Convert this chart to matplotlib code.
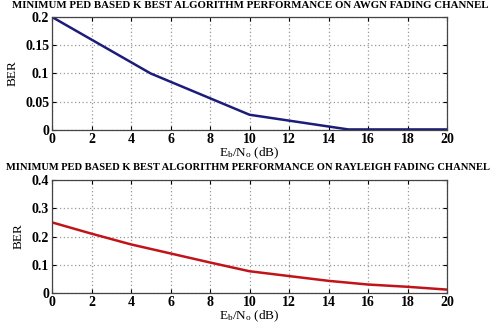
import matplotlib
matplotlib.use('Agg')
import matplotlib.pyplot as plt

plt.rcParams['font.family'] = 'Liberation Serif'
plt.rcParams['font.weight'] = 'bold'
plt.rcParams['mathtext.fontset'] = 'custom'
plt.rcParams['mathtext.rm'] = 'Liberation Serif:bold'
plt.rcParams['mathtext.it'] = 'Liberation Serif:bold'
plt.rcParams['mathtext.bf'] = 'Liberation Serif:bold'

# AWGN channel
snr_awgn = [0, 5, 10, 15, 20]
ber_awgn = [0.2, 0.1, 0.027, 0.001, 0.001]

# Rayleigh channel
snr_ray = [0, 2, 4, 6, 8, 10, 12, 14, 16, 18, 20]
ber_ray = [0.25, 0.21, 0.172, 0.14, 0.108, 0.077, 0.06, 0.043, 0.03, 0.022, 0.012]

titles = ['MINIMUM PED BASED K BEST ALGORITHM PERFORMANCE ON AWGN FADING CHANNEL',
          'MINIMUM PED BASED K BEST ALGORITHM PERFORMANCE ON RAYLEIGH FADING CHANNEL']
xlabel = r'E$_\mathregular{b}$/N$_\mathregular{o}$ (dB)'

W, H = 493, 326
fig = plt.figure(figsize=(W/100, H/100), dpi=100)

def px(x0, y0, x1, y1):
    return [x0/W, 1 - y1/H, (x1-x0)/W, (y1-y0)/H]

ax1 = fig.add_axes(px(52, 17, 447, 130))
ax2 = fig.add_axes(px(52, 180, 447, 293))

ax1.plot(snr_awgn, ber_awgn, color='#1c1c7a', lw=1.8)
ax1.set_ylim(0, 0.2)
ax1.set_yticks([0, 0.05, 0.1, 0.15, 0.2])
ax1.set_yticklabels(['0', '0.05', '0.1', '0.15', '0.2'])

ax2.plot(snr_ray, ber_ray, color='#c0141a', lw=1.8)
ax2.set_ylim(0, 0.4)
ax2.set_yticks([0, 0.1, 0.2, 0.3, 0.4])
ax2.set_yticklabels(['0', '0.1', '0.2', '0.3', '0.4'])

for ax in (ax1, ax2):
    ax.set_xlim(0, 20)
    ax.set_xticks(range(0, 21, 2))
    ax.grid(True, color='#999999', linestyle=(0, (1, 2)), linewidth=0.9)
    ax.tick_params(direction='in', length=3, labelsize=10, pad=2,
                   top=True, right=True)
    for s in ax.spines.values():
        s.set_color('#444444')
        s.set_linewidth(0.9)
    ax.set_xlabel(xlabel, fontsize=9.5, labelpad=0)
    ax.set_ylabel('BER', fontsize=9.5, labelpad=5)

fig.text(488/W, 1 - 5/H, titles[0], ha='right', va='center', fontsize=7.8)
fig.text(490/W, 1 - 167/H, titles[1], ha='right', va='center', fontsize=7.6)

fig.savefig('out.png', dpi=100)
